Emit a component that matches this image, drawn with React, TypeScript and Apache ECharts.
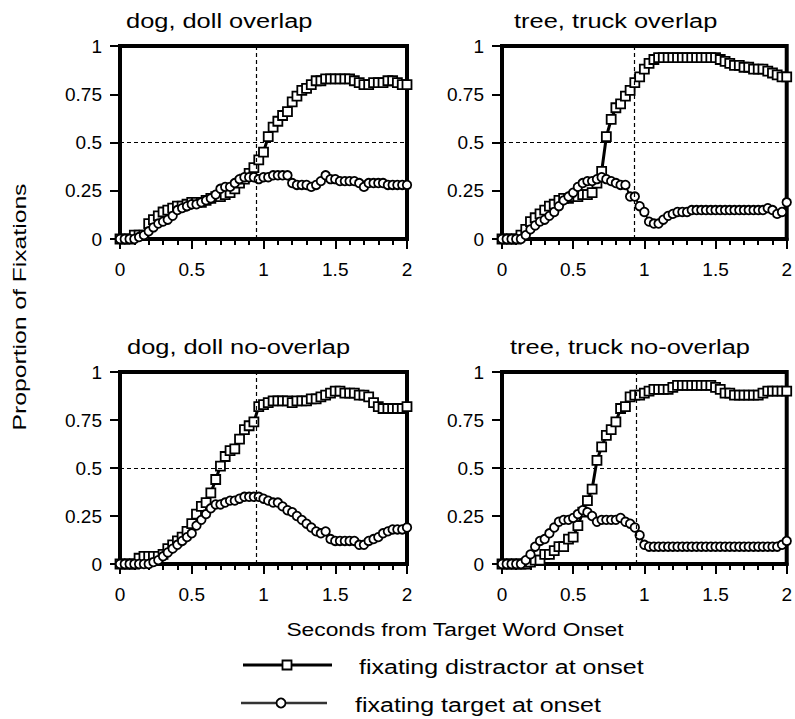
import React, { useEffect, useRef } from "react";
import * as echarts from "echarts";

const TIME = [0, 0.033, 0.067, 0.1, 0.133, 0.167, 0.2, 0.233, 0.267, 0.3, 0.333, 0.367, 0.4, 0.433, 0.467, 0.5, 0.533, 0.567, 0.6, 0.633, 0.667, 0.7, 0.733, 0.767, 0.8, 0.833, 0.867, 0.9, 0.933, 0.967, 1, 1.033, 1.067, 1.1, 1.133, 1.167, 1.2, 1.233, 1.267, 1.3, 1.333, 1.367, 1.4, 1.433, 1.467, 1.5, 1.533, 1.567, 1.6, 1.633, 1.667, 1.7, 1.733, 1.767, 1.8, 1.833, 1.867, 1.9, 1.933, 1.967, 2];

const TITLES = ["dog, doll overlap", "tree, truck overlap", "dog, doll no-overlap", "tree, truck no-overlap"];
const ONSET_LINE = [0.955, 0.93, 0.955, 0.94];

// fixating distractor at onset (squares)
const DOG_OVERLAP_DISTRACTOR = [0, 0, 0, 0.02, 0.02, 0.02, 0.08, 0.1, 0.12, 0.14, 0.15, 0.16, 0.17, 0.17, 0.18, 0.19, 0.19, 0.19, 0.2, 0.21, 0.22, 0.22, 0.23, 0.24, 0.26, 0.29, 0.31, 0.34, 0.37, 0.41, 0.45, 0.53, 0.58, 0.61, 0.64, 0.66, 0.71, 0.74, 0.77, 0.78, 0.8, 0.82, 0.82, 0.83, 0.83, 0.83, 0.83, 0.83, 0.83, 0.82, 0.81, 0.8, 0.8, 0.81, 0.81, 0.81, 0.82, 0.82, 0.81, 0.8, 0.8];
// fixating target at onset (circles)
const DOG_OVERLAP_TARGET = [0, 0, 0, 0, 0.01, 0.02, 0.04, 0.06, 0.08, 0.09, 0.1, 0.12, 0.15, 0.16, 0.17, 0.18, 0.18, 0.19, 0.2, 0.21, 0.23, 0.26, 0.27, 0.27, 0.29, 0.31, 0.32, 0.32, 0.32, 0.31, 0.32, 0.32, 0.33, 0.33, 0.33, 0.33, 0.29, 0.28, 0.28, 0.28, 0.27, 0.28, 0.3, 0.33, 0.31, 0.31, 0.3, 0.3, 0.3, 0.3, 0.29, 0.27, 0.29, 0.29, 0.29, 0.29, 0.28, 0.28, 0.28, 0.28, 0.28];

const TREE_OVERLAP_DISTRACTOR = [0, 0, 0, 0, 0.02, 0.05, 0.09, 0.11, 0.13, 0.15, 0.17, 0.18, 0.2, 0.21, 0.21, 0.22, 0.22, 0.23, 0.23, 0.24, 0.29, 0.35, 0.53, 0.62, 0.68, 0.7, 0.74, 0.77, 0.81, 0.84, 0.88, 0.91, 0.93, 0.94, 0.94, 0.94, 0.94, 0.94, 0.94, 0.94, 0.94, 0.94, 0.94, 0.94, 0.94, 0.94, 0.93, 0.92, 0.91, 0.9, 0.9, 0.89, 0.89, 0.88, 0.88, 0.88, 0.87, 0.86, 0.85, 0.84, 0.84];
const TREE_OVERLAP_TARGET = [0, 0, 0, 0, 0, 0.02, 0.05, 0.07, 0.09, 0.1, 0.12, 0.14, 0.17, 0.2, 0.22, 0.24, 0.27, 0.29, 0.3, 0.3, 0.31, 0.32, 0.31, 0.3, 0.29, 0.28, 0.28, 0.22, 0.22, 0.17, 0.14, 0.09, 0.08, 0.08, 0.1, 0.12, 0.13, 0.14, 0.14, 0.14, 0.15, 0.15, 0.15, 0.15, 0.15, 0.15, 0.15, 0.15, 0.15, 0.15, 0.15, 0.15, 0.15, 0.15, 0.15, 0.15, 0.16, 0.15, 0.13, 0.14, 0.19];

const DOG_NOOVERLAP_DISTRACTOR = [0, 0, 0, 0, 0.03, 0.04, 0.04, 0.04, 0.04, 0.05, 0.08, 0.1, 0.12, 0.14, 0.17, 0.21, 0.26, 0.3, 0.32, 0.37, 0.44, 0.51, 0.56, 0.59, 0.6, 0.65, 0.7, 0.72, 0.74, 0.82, 0.83, 0.84, 0.85, 0.85, 0.85, 0.85, 0.84, 0.85, 0.85, 0.85, 0.86, 0.86, 0.87, 0.88, 0.89, 0.9, 0.9, 0.89, 0.89, 0.89, 0.88, 0.88, 0.87, 0.84, 0.82, 0.81, 0.81, 0.81, 0.81, 0.81, 0.82];
const DOG_NOOVERLAP_TARGET = [0, 0, 0, 0, 0, 0, 0, 0.01, 0.02, 0.04, 0.06, 0.08, 0.1, 0.12, 0.14, 0.16, 0.2, 0.23, 0.26, 0.29, 0.31, 0.31, 0.32, 0.33, 0.33, 0.34, 0.35, 0.35, 0.35, 0.35, 0.34, 0.33, 0.32, 0.32, 0.3, 0.28, 0.27, 0.25, 0.23, 0.21, 0.19, 0.17, 0.16, 0.17, 0.13, 0.12, 0.12, 0.12, 0.12, 0.12, 0.1, 0.1, 0.12, 0.13, 0.14, 0.16, 0.17, 0.18, 0.18, 0.18, 0.19];

const TREE_NOOVERLAP_DISTRACTOR = [0, 0, 0, 0, 0, 0, 0.01, 0.02, 0.02, 0.05, 0.05, 0.07, 0.09, 0.09, 0.13, 0.14, 0.2, 0.27, 0.33, 0.39, 0.54, 0.61, 0.67, 0.7, 0.74, 0.81, 0.82, 0.87, 0.88, 0.88, 0.89, 0.9, 0.91, 0.91, 0.91, 0.91, 0.92, 0.93, 0.93, 0.93, 0.93, 0.93, 0.93, 0.93, 0.93, 0.92, 0.91, 0.89, 0.89, 0.88, 0.88, 0.88, 0.88, 0.88, 0.88, 0.89, 0.9, 0.9, 0.9, 0.9, 0.9];
const TREE_NOOVERLAP_TARGET = [0, 0, 0, 0, 0, 0.02, 0.05, 0.09, 0.12, 0.13, 0.16, 0.19, 0.22, 0.23, 0.23, 0.24, 0.26, 0.28, 0.27, 0.25, 0.22, 0.23, 0.23, 0.23, 0.23, 0.24, 0.22, 0.21, 0.19, 0.15, 0.1, 0.09, 0.09, 0.09, 0.09, 0.09, 0.09, 0.09, 0.09, 0.09, 0.09, 0.09, 0.09, 0.09, 0.09, 0.09, 0.09, 0.09, 0.09, 0.09, 0.09, 0.09, 0.09, 0.09, 0.09, 0.09, 0.09, 0.09, 0.09, 0.1, 0.12];

const DISTRACTOR = [DOG_OVERLAP_DISTRACTOR, TREE_OVERLAP_DISTRACTOR, DOG_NOOVERLAP_DISTRACTOR, TREE_NOOVERLAP_DISTRACTOR];
const TARGET = [DOG_OVERLAP_TARGET, TREE_OVERLAP_TARGET, DOG_NOOVERLAP_TARGET, TREE_NOOVERLAP_TARGET];

const X_TITLE = "Seconds from Target Word Onset";
const Y_TITLE = "Proportion of Fixations";
const LEGEND_DISTRACTOR = "fixating distractor at onset";
const LEGEND_TARGET = "fixating target at onset";

const FONT = '"Liberation Sans", Arial, Helvetica, sans-serif';

const PANELS = [
  { left: 120, top: 46, width: 287, height: 193, titleX: 126, titleY: 21 },
  { left: 502, top: 46, width: 287, height: 193, titleX: 514, titleY: 21 },
  { left: 120, top: 372, width: 287, height: 192, titleX: 127, titleY: 347 },
  { left: 502, top: 372, width: 287, height: 192, titleX: 510, titleY: 347 },
];

function txt(text: string, x: number, y: number, size: number, sx: number, align: string, rotation = 0) {
  return {
    type: "text",
    x,
    y,
    rotation,
    scaleX: sx,
    silent: true,
    style: {
      text,
      fill: "#000",
      fontSize: size,
      fontFamily: FONT,
      font: `normal ${size}px ${FONT}`,
      textAlign: align,
      align,
      textVerticalAlign: "middle",
      verticalAlign: "middle",
    },
  };
}

export default function App() {
  const ref = useRef<HTMLDivElement>(null);
  useEffect(() => {
    if (!ref.current) return;
    const chart = echarts.init(ref.current, null, { renderer: "svg" });
    const grid: any[] = [];
    const xAxis: any[] = [];
    const yAxis: any[] = [];
    const series: any[] = [];
    const graphic: any[] = [];
    PANELS.forEach((p, i) => {
      grid.push({
        left: p.left,
        top: p.top,
        width: p.width,
        height: p.height,
        show: true,
        borderColor: "#000",
        borderWidth: 4,
        backgroundColor: "transparent",
      });
      xAxis.push({
        type: "value",
        gridIndex: i,
        min: 0,
        max: 2,
        interval: 0.5,
        axisLine: { show: true, onZero: false, lineStyle: { color: "#000", width: 4 } },
        axisTick: { show: true, length: 10, lineStyle: { color: "#000", width: 2 } },
        minorTick: { show: true, splitNumber: 5, length: 6, lineStyle: { color: "#000", width: 2 } },
        axisLabel: { color: "#000", fontSize: 19, fontFamily: FONT, margin: 21 },
        splitLine: { show: false },
      });
      yAxis.push({
        type: "value",
        gridIndex: i,
        min: 0,
        max: 1,
        interval: 0.25,
        axisLine: { show: true, onZero: false, lineStyle: { color: "#000", width: 4 } },
        axisTick: { show: true, length: 10, lineStyle: { color: "#000", width: 2 } },
        axisLabel: { color: "#000", fontSize: 19, fontFamily: FONT, margin: 18 },
        splitLine: { show: false },
      });
      series.push({
        type: "line",
        name: LEGEND_DISTRACTOR,
        xAxisIndex: i,
        yAxisIndex: i,
        data: TIME.map((t, k) => [t, DISTRACTOR[i][k]]),
        symbol: "rect",
        symbolSize: 9,
        showAllSymbol: true,
        clip: false,
        itemStyle: { color: "#fff", borderColor: "#000", borderWidth: 1.8 },
        lineStyle: { color: "#000", width: 3 },
        markLine: {
          silent: true,
          symbol: "none",
          label: { show: false },
          lineStyle: { color: "#000", type: [4, 3], width: 1.2 },
          data: [{ xAxis: ONSET_LINE[i] }, { yAxis: 0.5 }],
        },
      });
      series.push({
        type: "line",
        name: LEGEND_TARGET,
        xAxisIndex: i,
        yAxisIndex: i,
        data: TIME.map((t, k) => [t, TARGET[i][k]]),
        symbol: "circle",
        symbolSize: 8.5,
        showAllSymbol: true,
        clip: false,
        itemStyle: { color: "#fff", borderColor: "#000", borderWidth: 1.8 },
        lineStyle: { color: "#000", width: 2 },
      });
      graphic.push(txt(TITLES[i], p.titleX, p.titleY, 20, 1.27, "left"));
    });
    graphic.push(txt(X_TITLE, 455, 629, 19, 1.2, "center"));
    graphic.push(txt(Y_TITLE, 20, 307, 19, 1.3, "center", Math.PI / 2));
    graphic.push({ type: "line", silent: true, shape: { x1: 243, y1: 665, x2: 332, y2: 665 }, style: { stroke: "#000", lineWidth: 3 } });
    graphic.push({ type: "rect", silent: true, shape: { x: 282.5, y: 660.5, width: 9, height: 9 }, style: { fill: "#fff", stroke: "#000", lineWidth: 1.8 } });
    graphic.push({ type: "line", silent: true, shape: { x1: 241, y1: 703, x2: 327, y2: 703 }, style: { stroke: "#333", lineWidth: 2.5 } });
    graphic.push({ type: "circle", silent: true, shape: { cx: 281, cy: 703, r: 4.5 }, style: { fill: "#fff", stroke: "#000", lineWidth: 1.8 } });
    graphic.push(txt(LEGEND_DISTRACTOR, 359, 667, 20, 1.25, "left"));
    graphic.push(txt(LEGEND_TARGET, 355, 705, 20, 1.25, "left"));

    chart.setOption({
      animation: false,
      backgroundColor: "#fff",
      grid,
      xAxis,
      yAxis,
      series,
      graphic: { elements: graphic },
    });
    return () => chart.dispose();
  }, []);
  return <div ref={ref} style={{ position: "fixed", left: 0, top: 0, width: 795, height: 719 }} />;
}
